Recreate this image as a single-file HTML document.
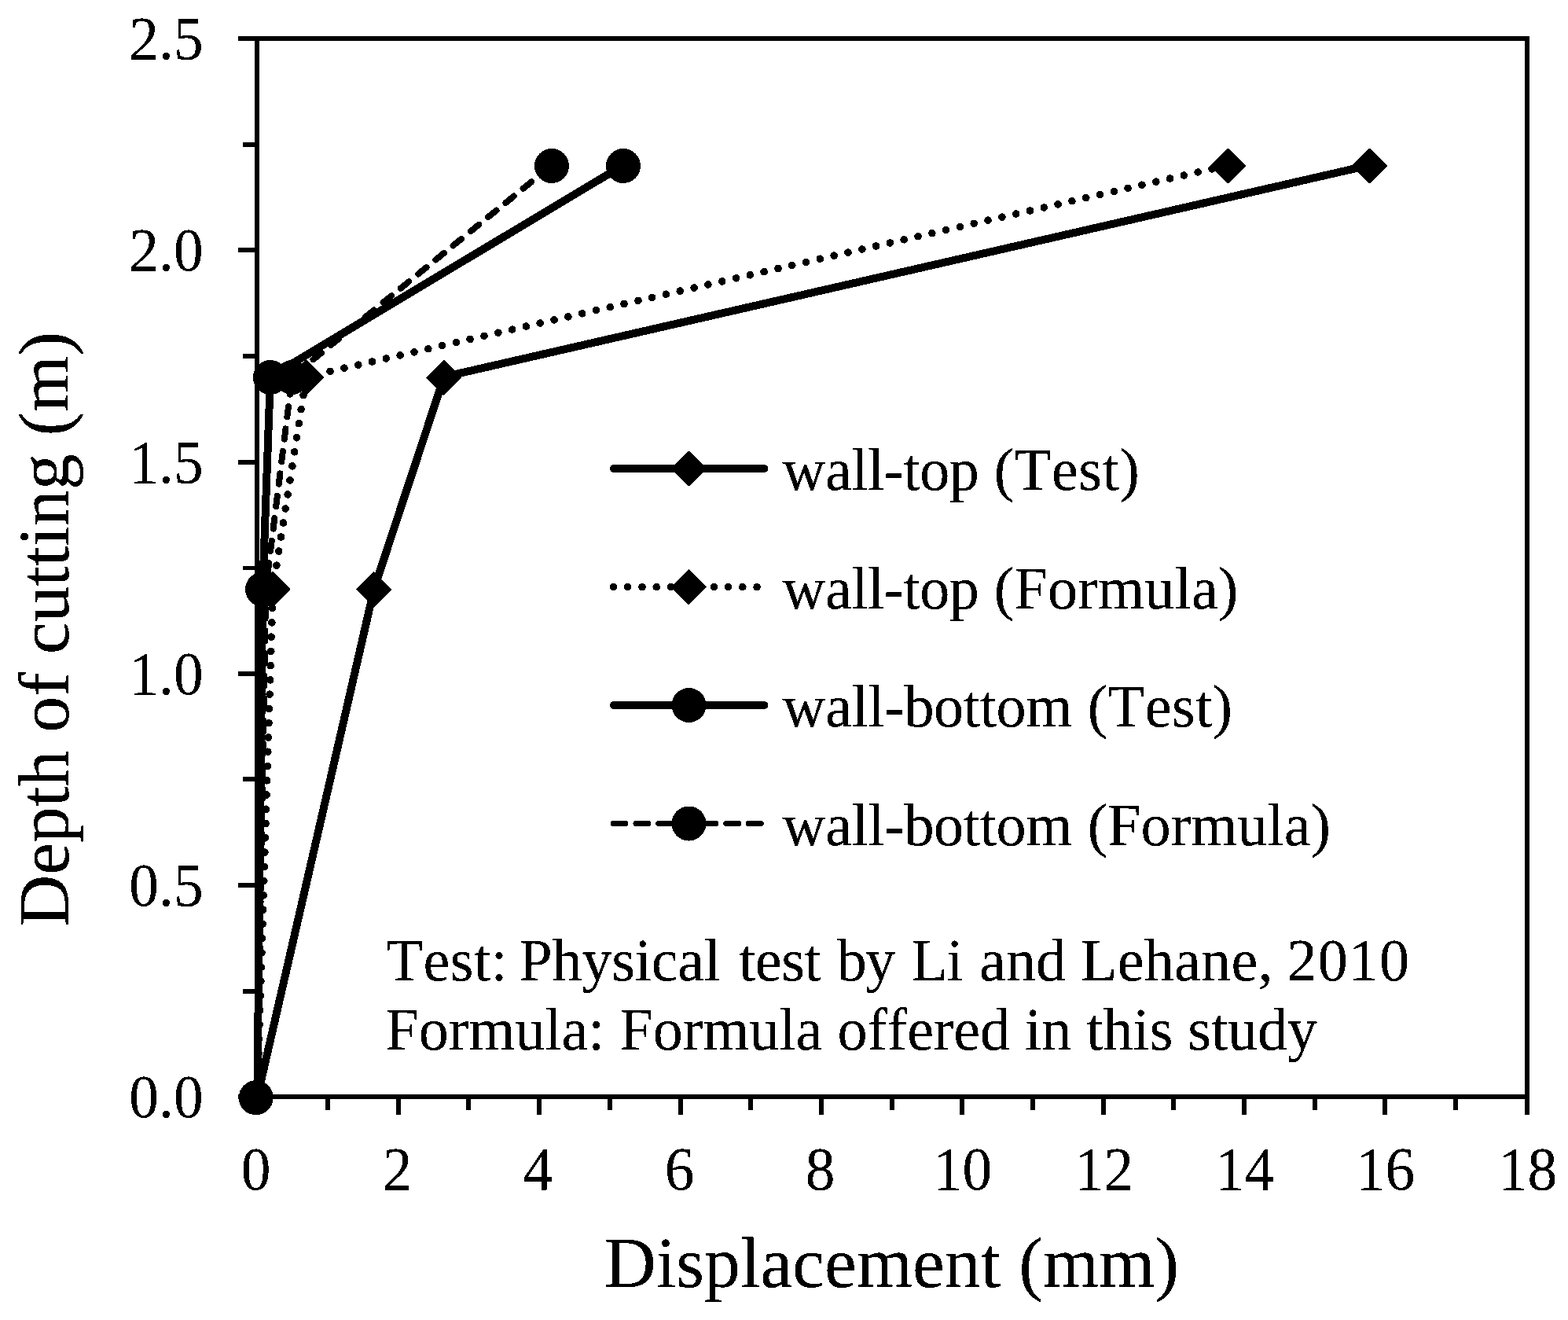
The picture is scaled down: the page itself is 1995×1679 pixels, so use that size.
<!DOCTYPE html>
<html lang="en"><head><meta charset="utf-8"><title>Depth of cutting vs displacement</title>
<style>
html,body{margin:0;padding:0;background:#fff;}
body{width:1995px;height:1679px;overflow:hidden;}
svg{display:block;}
text{font-family:"Liberation Serif","DejaVu Serif",serif;fill:#000;font-kerning:none;font-variant-ligatures:none;}
.s{font-size:76.1px;}
.l{font-size:91.8px;}
.t{font-size:75.4px;}
.ax{fill:#000;stroke:none;shape-rendering:crispEdges;}
.ser{stroke:#000;fill:none;stroke-linejoin:round;shape-rendering:crispEdges;}
.mk{fill:#000;stroke:none;shape-rendering:crispEdges;}
.dm{stroke:#000;stroke-width:1.6;stroke-linejoin:round;}
</style></head><body>
<svg width="1995" height="1679" viewBox="0 0 1995 1679">
<defs><filter id="bin" filterUnits="userSpaceOnUse" x="0" y="0" width="1995" height="1679" color-interpolation-filters="sRGB"><feComponentTransfer><feFuncA type="discrete" tableValues="0 0 0 1 1 1 1 1"/></feComponentTransfer></filter></defs>
<rect x="0" y="0" width="1995" height="1679" fill="#fff"/>
<path class="ax" d="M324 46h6v1352h-6zM1940 46h6v1352h-6zM324 46h1622v6h-1622zM324 1392h1622v6h-1622zM303 1392h21v6h-21zM309 1258h15v6h-15zM303 1123h21v6h-21zM309 988h15v6h-15zM303 854h21v6h-21zM309 720h15v5h-15zM303 585h21v6h-21zM309 450h15v6h-15zM303 315h21v6h-21zM309 181h15v6h-15zM303 46h21v6h-21zM324 1398h6v20h-6zM414 1398h6v14h-6zM504 1398h6v20h-6zM593 1398h6v14h-6zM683 1398h6v20h-6zM773 1398h6v14h-6zM863 1398h6v20h-6zM952 1398h6v14h-6zM1042 1398h6v20h-6zM1132 1398h6v14h-6zM1221 1398h6v20h-6zM1311 1398h6v14h-6zM1401 1398h6v20h-6zM1490 1398h6v14h-6zM1580 1398h6v20h-6zM1670 1398h6v14h-6zM1759 1398h6v20h-6zM1849 1398h6v14h-6zM1940 1398h6v20h-6z"/>
<g class="ser">
<path d="M327.4 1395.3L476.0 748.7L565.0 479.3L1742.7 210.1" stroke-width="10"/>
<path d="M327.4 1395.3L347.2 748.7L389.7 479.3L1562.7 210.1" stroke-width="9.6" stroke-linecap="round" stroke-dasharray="0.01 18.26" stroke-dashoffset="-0.8"/>
<path d="M327.4 1395.3L334.2 748.7L344.0 479.1L793.2 210.1" stroke-width="10"/>
<path d="M327.4 1395.3L338.2 748.7L371.7 479.1L702.2 210.1" stroke-width="8" stroke-linecap="round" stroke-dasharray="13.4 15.3" stroke-dashoffset="-5.9"/>
</g>
<g class="mk">
<path class="dm" d="M475.8 728.0L497.4 749.6L475.8 771.2L454.2 749.6Z"/>
<path class="dm" d="M564.8 458.6L586.4 480.2L564.8 501.8L543.2 480.2Z"/>
<path class="dm" d="M1742.5 189.4L1764.1 211.0L1742.5 232.6L1720.9 211.0Z"/>
<path class="dm" d="M347.0 728.0L368.6 749.6L347.0 771.2L325.4 749.6Z"/>
<path class="dm" d="M389.5 458.6L411.1 480.2L389.5 501.8L367.9 480.2Z"/>
<path class="dm" d="M1562.5 189.4L1584.1 211.0L1562.5 232.6L1540.9 211.0Z"/>
<circle cx="325.7" cy="1396.2" r="22.0"/>
<circle cx="334.0" cy="749.6" r="22.0"/>
<circle cx="343.8" cy="480.0" r="22.0"/>
<circle cx="793.0" cy="211.0" r="22.0"/>
<circle cx="338.0" cy="749.6" r="22.0"/>
<circle cx="371.5" cy="480.0" r="22.0"/>
<circle cx="702.0" cy="211.0" r="22.0"/>
</g>
<g class="ser">
<path d="M780.8 596.0H972.3" stroke-width="10" stroke-linecap="round"/>
<path d="M780.4 746.6H970" stroke-width="9.6" stroke-linecap="round" stroke-dasharray="0.01 18.26"/>
<path d="M780.8 897.0H972.3" stroke-width="10" stroke-linecap="round"/>
<path d="M780.4 1047.5H972" stroke-width="7.2" stroke-linecap="round" stroke-dasharray="15.5 13.2"/>
</g>
<g class="mk">
<path class="dm" d="M876.3 574.4L897.9 596.0L876.3 617.6L854.7 596.0Z"/>
<path class="dm" d="M876.3 725.0L897.9 746.6L876.3 768.2L854.7 746.6Z"/>
<circle cx="876.5" cy="897.0" r="22.0"/>
<circle cx="876.5" cy="1047.5" r="22.0"/>
</g>
<g filter="url(#bin)">
<g class="s">
<text x="995.6" y="623.3" dx="0 -0.49 -0.49 -0.49 -0.49 -0.49 -0.49 -0.49 0 0 0.64 0.64 0.64 0.64 0.64">wall-top (Test)</text>
<text x="995.6" y="774.3" dx="0 -0.49 -0.49 -0.49 -0.49 -0.49 -0.49 -0.49 0 0 0.25 0.25 0.25 0.25 0.25 0.25 0.25 0.25">wall-top (Formula)</text>
<text x="995.6" y="924.3" dx="0 -0.32 -0.32 -0.32 -0.32 -0.32 -0.32 -0.32 -0.32 -0.32 -0.32 0 0.2 0.56 0.56 0.56 0.56 0.56">wall-bottom (Test)</text>
<text x="995.6" y="1074.8" dx="0 -0.32 -0.32 -0.32 -0.32 -0.32 -0.32 -0.32 -0.32 -0.32 -0.32 0 0.2 0.1 0.1 0.1 0.1 0.1 0.1 0.1 0.1">wall-bottom (Formula)</text>
<text x="491.5" y="1247.1" dx="0 0.5 0.5 0.5 0.5 0 -4.3 -0.19 -0.19 -0.19 -0.19 -0.19 -0.19 -0.19 0 3.9 -0.33 -0.33 -0.33 0 1.1 -1.5 0 1 -1.5 0 1.5 0 0 0 0 0.25 0.25 0.25 0.25 0.25 0.25 0 -1 1.1 1.1 1.1">Test: Physical test by Li and Lehane, 2010</text>
<text x="490.5" y="1334.8">Formula: Formula offered in this study</text>
<text class="t" transform="translate(258.6 1421.3) scale(1 1.03)" text-anchor="end">0.0</text>
<text class="t" transform="translate(258.6 1152.0) scale(1 1.03)" text-anchor="end">0.5</text>
<text class="t" transform="translate(258.6 882.8) scale(1 1.03)" text-anchor="end">1.0</text>
<text class="t" transform="translate(258.6 613.5) scale(1 1.03)" text-anchor="end">1.5</text>
<text class="t" transform="translate(258.6 344.3) scale(1 1.03)" text-anchor="end">2.0</text>
<text class="t" transform="translate(258.6 75.0) scale(1 1.03)" text-anchor="end">2.5</text>
<text class="t" transform="translate(325.6 1512.9) scale(1 1.03)" text-anchor="middle">0</text>
<text class="t" transform="translate(505.6 1512.9) scale(1 1.03)" text-anchor="middle">2</text>
<text class="t" transform="translate(684.6 1512.9) scale(1 1.03)" text-anchor="middle">4</text>
<text class="t" transform="translate(864.6 1512.9) scale(1 1.03)" text-anchor="middle">6</text>
<text class="t" transform="translate(1043.6 1512.9) scale(1 1.03)" text-anchor="middle">8</text>
<text class="t" transform="translate(1224.6 1512.9) scale(1 1.03)" text-anchor="middle">10</text>
<text class="t" transform="translate(1404.6 1512.9) scale(1 1.03)" text-anchor="middle">12</text>
<text class="t" transform="translate(1583.6 1512.9) scale(1 1.03)" text-anchor="middle">14</text>
<text class="t" transform="translate(1762.6 1512.9) scale(1 1.03)" text-anchor="middle">16</text>
<text class="t" transform="translate(1943.6 1512.9) scale(1 1.03)" text-anchor="middle">18</text>
</g>
<g class="l">
<text x="768.5" y="1637.4">Displacement (mm)</text>
<text transform="translate(86.7 1178.9) rotate(-90)">Depth of cutting (m)</text>
</g>
</g>
</svg>
</body></html>
